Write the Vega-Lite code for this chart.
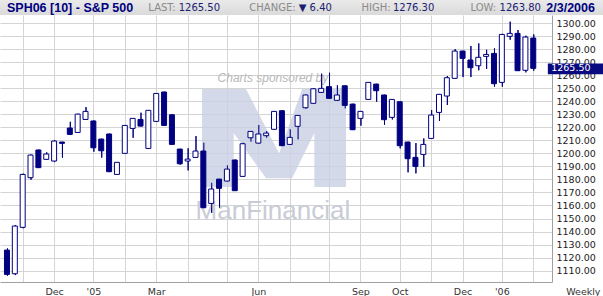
{
  "$schema": "https://vega.github.io/schema/vega-lite/v6.json",
  "width": 552,
  "height": 267,
  "autosize": {"type": "none"},
  "padding": {"left": 0, "top": 15, "right": 51, "bottom": 14},
  "background": "#ffffff",
  "config": {
    "view": {"stroke": null},
    "axisX": {"grid": true, "gridColor": "#d4d4d4", "gridWidth": 1, "ticks": false, "domainColor": "#a0a0a0", "labelFont": "DejaVu Sans", "labelFontSize": 9.5, "labelColor": "#333333", "labelPadding": 4, "labelOverlap": false, "labelFlush": false, "tickCount": 100},
    "axisY": {"grid": true, "gridColor": "#d4d4d4", "gridWidth": 1, "ticks": false, "domainColor": "#a0a0a0", "labelFont": "DejaVu Sans", "labelFontSize": 9.5, "labelColor": "#222222", "labelPadding": 4, "labelOverlap": false, "labelBound": false, "tickCount": 100}
  },
  "data": {"values": [
    {"date": "2004-10-22", "open": 1125.7, "high": 1127.0, "low": 1106.0, "close": 1107.0},
    {"date": "2004-10-29", "open": 1107.5, "high": 1145.0, "low": 1106.5, "close": 1144.2},
    {"date": "2004-11-05", "open": 1143.2, "high": 1184.5, "low": 1142.5, "close": 1183.9},
    {"date": "2004-11-12", "open": 1181.4, "high": 1199.2, "low": 1179.8, "close": 1198.8},
    {"date": "2004-11-19", "open": 1202.7, "high": 1203.0, "low": 1189.0, "close": 1189.1},
    {"date": "2004-11-26", "open": 1195.5, "high": 1200.9, "low": 1195.2, "close": 1199.6},
    {"date": "2004-12-03", "open": 1194.2, "high": 1210.3, "low": 1193.4, "close": 1209.6},
    {"date": "2004-12-10", "open": 1208.8, "high": 1209.0, "low": 1196.8, "close": 1207.8},
    {"date": "2004-12-17", "open": 1219.6, "high": 1224.4, "low": 1214.5, "close": 1214.7},
    {"date": "2004-12-24", "open": 1216.2, "high": 1230.6, "low": 1215.8, "close": 1230.3},
    {"date": "2004-12-31", "open": 1226.2, "high": 1235.7, "low": 1226.0, "close": 1232.4},
    {"date": "2005-01-07", "open": 1225.0, "high": 1225.4, "low": 1201.4, "close": 1204.4},
    {"date": "2005-01-14", "open": 1211.1, "high": 1211.3, "low": 1196.8, "close": 1202.1},
    {"date": "2005-01-21", "open": 1215.0, "high": 1215.3, "low": 1185.7, "close": 1186.0},
    {"date": "2005-01-28", "open": 1183.9, "high": 1193.4, "low": 1183.6, "close": 1193.2},
    {"date": "2005-02-04", "open": 1200.1, "high": 1221.8, "low": 1199.9, "close": 1221.6},
    {"date": "2005-02-11", "open": 1219.3, "high": 1227.2, "low": 1212.1, "close": 1227.0},
    {"date": "2005-02-18", "open": 1226.2, "high": 1231.4, "low": 1220.8, "close": 1221.1},
    {"date": "2005-02-25", "open": 1203.9, "high": 1233.4, "low": 1203.6, "close": 1233.2},
    {"date": "2005-03-04", "open": 1224.7, "high": 1246.4, "low": 1224.5, "close": 1246.2},
    {"date": "2005-03-11", "open": 1247.3, "high": 1247.5, "low": 1221.3, "close": 1221.6},
    {"date": "2005-03-18", "open": 1229.8, "high": 1230.0, "low": 1206.8, "close": 1207.0},
    {"date": "2005-03-25", "open": 1203.4, "high": 1203.6, "low": 1191.4, "close": 1192.1},
    {"date": "2005-04-01", "open": 1194.2, "high": 1204.0, "low": 1187.0, "close": 1195.7},
    {"date": "2005-04-08", "open": 1197.0, "high": 1213.4, "low": 1196.7, "close": 1201.9},
    {"date": "2005-04-15", "open": 1201.9, "high": 1208.3, "low": 1158.0, "close": 1158.3},
    {"date": "2005-04-22", "open": 1161.6, "high": 1177.5, "low": 1154.4, "close": 1172.7},
    {"date": "2005-04-29", "open": 1180.3, "high": 1180.5, "low": 1158.3, "close": 1173.2},
    {"date": "2005-05-06", "open": 1178.8, "high": 1190.9, "low": 1178.5, "close": 1188.0},
    {"date": "2005-05-13", "open": 1195.0, "high": 1195.3, "low": 1171.2, "close": 1171.4},
    {"date": "2005-05-20", "open": 1182.4, "high": 1208.3, "low": 1182.1, "close": 1207.5},
    {"date": "2005-05-27", "open": 1212.1, "high": 1217.3, "low": 1209.1, "close": 1217.0},
    {"date": "2005-06-03", "open": 1208.0, "high": 1221.9, "low": 1207.7, "close": 1215.0},
    {"date": "2005-06-10", "open": 1213.7, "high": 1217.3, "low": 1212.1, "close": 1215.7},
    {"date": "2005-06-17", "open": 1218.6, "high": 1232.7, "low": 1218.3, "close": 1232.4},
    {"date": "2005-06-24", "open": 1232.9, "high": 1233.4, "low": 1205.7, "close": 1206.0},
    {"date": "2005-07-01", "open": 1207.0, "high": 1218.6, "low": 1206.7, "close": 1212.4},
    {"date": "2005-07-08", "open": 1220.9, "high": 1229.5, "low": 1210.9, "close": 1229.3},
    {"date": "2005-07-15", "open": 1235.2, "high": 1245.4, "low": 1234.4, "close": 1245.0},
    {"date": "2005-07-22", "open": 1238.6, "high": 1250.1, "low": 1238.3, "close": 1249.8},
    {"date": "2005-07-29", "open": 1247.0, "high": 1261.4, "low": 1246.7, "close": 1250.1},
    {"date": "2005-08-05", "open": 1251.4, "high": 1262.1, "low": 1242.2, "close": 1242.4},
    {"date": "2005-08-12", "open": 1240.9, "high": 1252.4, "low": 1240.6, "close": 1245.0},
    {"date": "2005-08-19", "open": 1252.1, "high": 1252.4, "low": 1234.7, "close": 1237.0},
    {"date": "2005-08-26", "open": 1238.0, "high": 1238.3, "low": 1218.0, "close": 1218.3},
    {"date": "2005-09-02", "open": 1227.0, "high": 1232.6, "low": 1221.4, "close": 1232.4},
    {"date": "2005-09-09", "open": 1241.6, "high": 1254.9, "low": 1241.3, "close": 1254.7},
    {"date": "2005-09-16", "open": 1253.4, "high": 1253.6, "low": 1239.8, "close": 1248.3},
    {"date": "2005-09-23", "open": 1245.0, "high": 1245.2, "low": 1222.1, "close": 1226.0},
    {"date": "2005-09-30", "open": 1227.8, "high": 1241.9, "low": 1226.2, "close": 1241.6},
    {"date": "2005-10-07", "open": 1239.8, "high": 1240.0, "low": 1203.9, "close": 1206.0},
    {"date": "2005-10-14", "open": 1208.8, "high": 1209.0, "low": 1185.5, "close": 1196.0},
    {"date": "2005-10-21", "open": 1197.0, "high": 1208.0, "low": 1184.7, "close": 1190.1},
    {"date": "2005-10-28", "open": 1199.3, "high": 1211.6, "low": 1189.8, "close": 1207.0},
    {"date": "2005-11-04", "open": 1211.6, "high": 1233.4, "low": 1211.3, "close": 1229.6},
    {"date": "2005-11-11", "open": 1231.6, "high": 1245.8, "low": 1225.0, "close": 1245.5},
    {"date": "2005-11-18", "open": 1244.2, "high": 1259.6, "low": 1237.3, "close": 1258.3},
    {"date": "2005-11-25", "open": 1257.8, "high": 1280.3, "low": 1257.5, "close": 1278.8},
    {"date": "2005-12-02", "open": 1278.8, "high": 1279.0, "low": 1258.8, "close": 1273.2},
    {"date": "2005-12-09", "open": 1271.9, "high": 1282.7, "low": 1258.8, "close": 1266.0},
    {"date": "2005-12-16", "open": 1267.5, "high": 1284.7, "low": 1264.0, "close": 1274.0},
    {"date": "2005-12-23", "open": 1274.7, "high": 1279.8, "low": 1265.0, "close": 1276.2},
    {"date": "2005-12-30", "open": 1277.0, "high": 1280.9, "low": 1251.4, "close": 1253.7},
    {"date": "2006-01-06", "open": 1254.7, "high": 1292.0, "low": 1251.4, "close": 1291.6},
    {"date": "2006-01-13", "open": 1290.1, "high": 1301.4, "low": 1287.5, "close": 1292.4},
    {"date": "2006-01-20", "open": 1292.4, "high": 1295.0, "low": 1263.5, "close": 1263.7},
    {"date": "2006-01-27", "open": 1264.0, "high": 1290.6, "low": 1262.4, "close": 1289.6},
    {"date": "2006-02-03", "open": 1288.8, "high": 1291.6, "low": 1263.7, "close": 1265.5}
  ]},
  "layer": [
    {
      "mark": {"type": "rule", "color": "#000080", "strokeWidth": 1, "xOffset": 0.5},
      "encoding": {
        "x": {
          "field": "date", "type": "temporal",
          "scale": {"type": "utc", "domain": [
            {"year": 2004, "month": 10, "date": 20, "hours": 6, "utc": true},
            {"year": 2006, "month": 2, "date": 15, "hours": 6, "utc": true}
          ]},
          "axis": {
            "orient": "bottom",
            "tickCount": 100,
            "values": [
              {"year": 2004, "month": 11, "date": 5, "utc": true},
              {"year": 2004, "month": 12, "date": 3, "utc": true},
              {"year": 2005, "month": 1, "date": 7, "utc": true},
              {"year": 2005, "month": 2, "date": 4, "utc": true},
              {"year": 2005, "month": 3, "date": 4, "utc": true},
              {"year": 2005, "month": 4, "date": 1, "utc": true},
              {"year": 2005, "month": 5, "date": 6, "utc": true},
              {"year": 2005, "month": 6, "date": 3, "utc": true},
              {"year": 2005, "month": 7, "date": 1, "utc": true},
              {"year": 2005, "month": 8, "date": 5, "utc": true},
              {"year": 2005, "month": 9, "date": 2, "utc": true},
              {"year": 2005, "month": 10, "date": 7, "utc": true},
              {"year": 2005, "month": 11, "date": 4, "utc": true},
              {"year": 2005, "month": 12, "date": 2, "utc": true},
              {"year": 2006, "month": 1, "date": 6, "utc": true},
              {"year": 2006, "month": 2, "date": 3, "utc": true}
            ],
            "labelExpr": "utcmonth(datum.value) == 0 ? \"'\" + utcFormat(datum.value, '%y') : (indexof([2, 5, 8, 9, 11], utcmonth(datum.value)) >= 0 ? utcFormat(datum.value, '%b') : '')",
            "grid": true,
            "title": "Weekly", "titleFont": "DejaVu Sans", "titleFontSize": 9.5,
            "titleFontWeight": "normal", "titleColor": "#333333",
            "titleX": 600, "titleY": 4, "titleAlign": "right", "titleBaseline": "top"
          }
        },
        "y": {
          "field": "low", "type": "quantitative",
          "scale": {"domain": [1101.154, 1306.538], "nice": false, "zero": false},
          "axis": {
            "orient": "right",
            "tickCount": 100,
            "values": [1110, 1120, 1130, 1140, 1150, 1160, 1170, 1180, 1190, 1200, 1210, 1220, 1230, 1240, 1250, 1260, 1270, 1280, 1290, 1300],
            "format": ".2f",
            "grid": true,
            "title": null
          }
        },
        "y2": {"field": "high"}
      }
    },
    {
      "data": {"values": [{}]},
      "mark": {"type": "rect", "fill": {"gradient": "linear", "x1": 0, "y1": 0, "x2": 0, "y2": 1, "stops": [{"offset": 0, "color": "#ececec"}, {"offset": 1, "color": "#dadada"}]}},
      "encoding": {
        "x": {"datum": {"year": 2004, "month": 9, "date": 1, "utc": true}, "type": "temporal"},
        "x2": {"datum": {"year": 2006, "month": 5, "date": 1, "utc": true}},
        "y": {"datum": 1306.538, "type": "quantitative"},
        "y2": {"datum": 1320}
      }
    },
    {
      "data": {"values": [{}]},
      "mark": {"type": "text", "text": "SPH06 [10] - S&P 500", "align": "left", "baseline": "middle", "font": "Liberation Sans", "fontWeight": "bold", "fontSize": 12.5, "color": "#000080"},
      "encoding": {"x": {"datum": {"year": 2004, "month": 10, "date": 22, "utc": true}, "type": "temporal"}, "y": {"datum": 1312.3, "type": "quantitative"}}
    },
    {
      "data": {"values": [{}]},
      "mark": {"type": "text", "text": "LAST:", "align": "left", "baseline": "middle", "font": "DejaVu Sans", "fontSize": 10, "color": "#8a8a8a"},
      "encoding": {"x": {"datum": {"year": 2005, "month": 2, "date": 25, "utc": true}, "type": "temporal"}, "y": {"datum": 1312.3, "type": "quantitative"}}
    },
    {
      "data": {"values": [{}]},
      "mark": {"type": "text", "text": "1265.50", "align": "left", "baseline": "middle", "font": "DejaVu Sans", "fontSize": 10, "color": "#1a2070"},
      "encoding": {"x": {"datum": {"year": 2005, "month": 3, "date": 24, "utc": true}, "type": "temporal"}, "y": {"datum": 1312.3, "type": "quantitative"}}
    },
    {
      "data": {"values": [{}]},
      "mark": {"type": "text", "text": "CHANGE:", "align": "left", "baseline": "middle", "font": "DejaVu Sans", "fontSize": 10, "color": "#8a8a8a"},
      "encoding": {"x": {"datum": {"year": 2005, "month": 5, "date": 26, "utc": true}, "type": "temporal"}, "y": {"datum": 1312.3, "type": "quantitative"}}
    },
    {
      "data": {"values": [{}]},
      "mark": {"type": "text", "text": "▼ 6.40", "align": "left", "baseline": "middle", "font": "DejaVu Sans", "fontSize": 10, "color": "#1a2070"},
      "encoding": {"x": {"datum": {"year": 2005, "month": 7, "date": 9, "utc": true}, "type": "temporal"}, "y": {"datum": 1312.3, "type": "quantitative"}}
    },
    {
      "data": {"values": [{}]},
      "mark": {"type": "text", "text": "HIGH:", "align": "left", "baseline": "middle", "font": "DejaVu Sans", "fontSize": 10, "color": "#8a8a8a"},
      "encoding": {"x": {"datum": {"year": 2005, "month": 9, "date": 3, "utc": true}, "type": "temporal"}, "y": {"datum": 1312.3, "type": "quantitative"}}
    },
    {
      "data": {"values": [{}]},
      "mark": {"type": "text", "text": "1276.30", "align": "left", "baseline": "middle", "font": "DejaVu Sans", "fontSize": 10, "color": "#1a2070"},
      "encoding": {"x": {"datum": {"year": 2005, "month": 10, "date": 1, "utc": true}, "type": "temporal"}, "y": {"datum": 1312.3, "type": "quantitative"}}
    },
    {
      "data": {"values": [{}]},
      "mark": {"type": "text", "text": "LOW:", "align": "left", "baseline": "middle", "font": "DejaVu Sans", "fontSize": 10, "color": "#8a8a8a"},
      "encoding": {"x": {"datum": {"year": 2005, "month": 12, "date": 9, "utc": true}, "type": "temporal"}, "y": {"datum": 1312.3, "type": "quantitative"}}
    },
    {
      "data": {"values": [{}]},
      "mark": {"type": "text", "text": "1263.80", "align": "left", "baseline": "middle", "font": "DejaVu Sans", "fontSize": 10, "color": "#1a2070"},
      "encoding": {"x": {"datum": {"year": 2006, "month": 1, "date": 4, "utc": true}, "type": "temporal"}, "y": {"datum": 1312.3, "type": "quantitative"}}
    },
    {
      "data": {"values": [{}]},
      "mark": {"type": "text", "text": "2/3/2006", "align": "right", "baseline": "middle", "font": "Liberation Sans", "fontWeight": "bold", "fontSize": 12.5, "color": "#000080"},
      "encoding": {"x": {"datum": {"year": 2006, "month": 3, "date": 30, "utc": true}, "type": "temporal"}, "y": {"datum": 1312.3, "type": "quantitative"}}
    },
    {
      "data": {"values": [{}]},
      "mark": {"type": "point", "shape": "M-1,-0.68 L-0.39,-0.68 L0.07,0.21 L0.39,-0.68 L1,-0.68 L1,0.68 L0.56,0.68 L0.56,-0.07 L0.25,0.56 L-0.11,0.56 L-0.56,-0.07 L-0.56,0.68 L-1,0.68 Z", "size": 20736, "filled": true, "color": "#c8d0e4", "opacity": 0.8, "strokeWidth": 0},
      "encoding": {"x": {"datum": {"year": 2005, "month": 6, "date": 17, "utc": true}, "type": "temporal"}, "y": {"datum": 1211.9, "type": "quantitative"}}
    },
    {
      "data": {"values": [{}]},
      "mark": {"type": "text", "text": "Charts sponsored by", "align": "center", "baseline": "middle", "font": "Liberation Sans", "fontStyle": "italic", "fontSize": 12, "color": "#b8b8b8"},
      "encoding": {"x": {"datum": {"year": 2005, "month": 6, "date": 16, "utc": true}, "type": "temporal"}, "y": {"datum": 1258.0, "type": "quantitative"}}
    },
    {
      "data": {"values": [{}]},
      "mark": {"type": "text", "text": "ManFinancial", "align": "center", "baseline": "alphabetic", "font": "Liberation Sans", "fontSize": 26, "color": "#c9ccd6"},
      "encoding": {"x": {"datum": {"year": 2005, "month": 6, "date": 16, "utc": true}, "type": "temporal"}, "y": {"datum": 1149.6, "type": "quantitative"}}
    },
    {
      "mark": {"type": "rule", "color": "#000080", "strokeWidth": 1, "xOffset": 0.5},
      "encoding": {
        "x": {"field": "date", "type": "temporal"},
        "y": {"field": "low", "type": "quantitative"},
        "y2": {"field": "high"}
      }
    },
    {
      "mark": {"type": "bar", "width": 5, "stroke": "#000080", "strokeWidth": 1},
      "encoding": {
        "x": {"field": "date", "type": "temporal"},
        "y": {"field": "open", "type": "quantitative"},
        "y2": {"field": "close"},
        "fill": {"condition": {"test": "datum.close < datum.open", "value": "#000080"}, "value": "#ffffff"}
      }
    },
    {
      "data": {"values": [{}]},
      "mark": {"type": "rect", "fill": "#0a0a80"},
      "encoding": {
        "x": {"datum": {"year": 2006, "month": 2, "date": 16, "utc": true}, "type": "temporal"},
        "x2": {"datum": {"year": 2006, "month": 5, "date": 1, "utc": true}},
        "y": {"datum": 1269.3, "type": "quantitative"},
        "y2": {"datum": 1260.9}
      }
    },
    {
      "data": {"values": [{}]},
      "mark": {"type": "text", "text": "1265.50", "align": "left", "baseline": "middle", "font": "DejaVu Sans", "fontSize": 9.5, "color": "#ffffff"},
      "encoding": {"x": {"datum": {"year": 2006, "month": 2, "date": 19, "utc": true}, "type": "temporal"}, "y": {"datum": 1265.5, "type": "quantitative"}}
    }
  ]
}
